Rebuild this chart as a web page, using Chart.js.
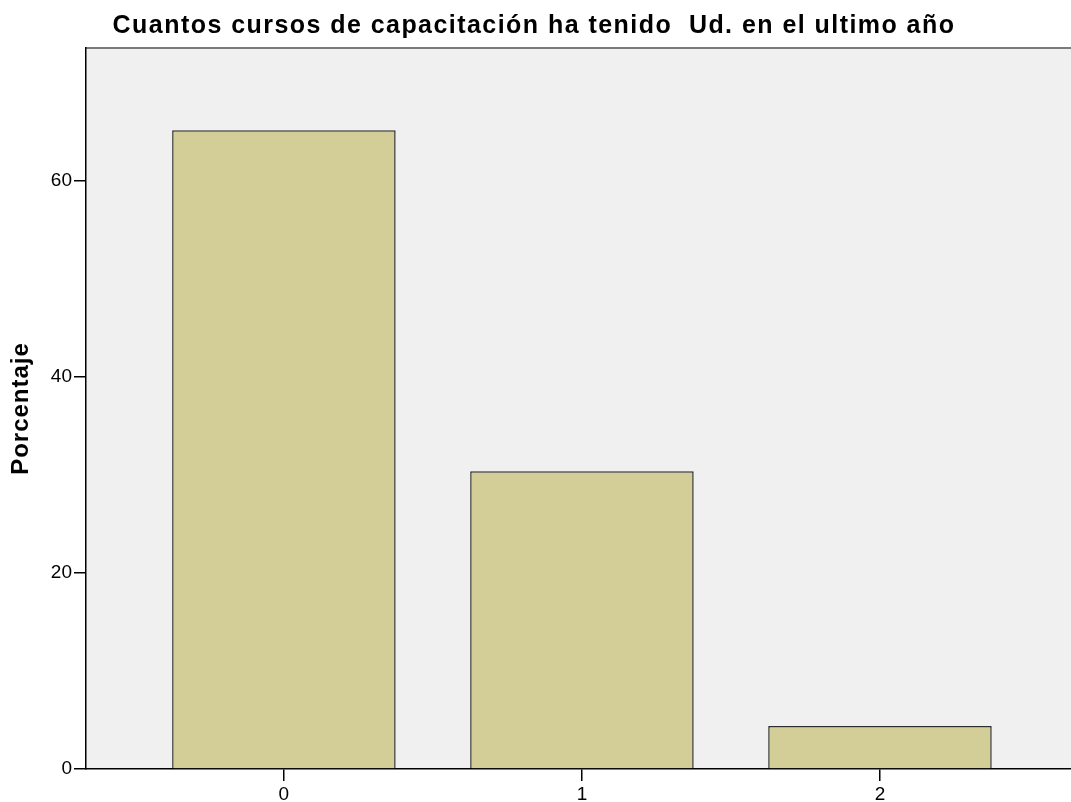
<!DOCTYPE html>
<html>
<head>
<meta charset="utf-8">
<script src="https://cdn.jsdelivr.net/npm/chart.js@4/dist/chart.umd.min.js"></script>
<style>
  html, body { margin: 0; padding: 0; background: #fff; }
  #wrap { width: 1071px; height: 802px; position: relative; }
</style>
</head>
<body>
<div id="wrap"><canvas id="chart"></canvas></div>
<script>
// values
const categories = [0, 1, 2];
const percentages = [65.2, 30.4, 4.4];
const yTicks = [0, 20, 40, 60];
const titleText = 'Cuantos cursos de capacitación ha tenido  Ud. en el ultimo año';
const yTitle = 'Porcentaje';

const FONT = '"Liberation Sans", Arial, sans-serif';

// grey plot background + top frame line
const plotBg = {
  id: 'plotBg',
  beforeDraw(chart) {
    const { ctx, chartArea: a } = chart;
    ctx.save();
    ctx.fillStyle = '#f0f0f0';
    ctx.fillRect(a.left, a.top, a.right - a.left, a.bottom - a.top);
    ctx.strokeStyle = '#7a7a7a';
    ctx.lineWidth = 2;
    ctx.beginPath();
    ctx.moveTo(a.left, a.top);
    ctx.lineTo(a.right, a.top);
    ctx.stroke();
    ctx.restore();
  }
};

// title and y-axis title drawn by hand so the spacing can match the SPSS output
const texts = {
  id: 'texts',
  afterDraw(chart) {
    const { ctx, chartArea: a } = chart;
    ctx.save();
    ctx.fillStyle = '#000';
    ctx.textAlign = 'center';
    ctx.textBaseline = 'alphabetic';
    ctx.font = 'bold 25px ' + FONT;
    ctx.letterSpacing = '1.45px';
    ctx.fillText(titleText, 534, 33);
    ctx.font = 'bold 24px ' + FONT;
    ctx.letterSpacing = '1px';
    ctx.translate(28, (a.top + a.bottom) / 2);
    ctx.rotate(-Math.PI / 2);
    ctx.fillText(yTitle, 0, 0);
    ctx.restore();
  }
};

new Chart(document.getElementById('chart'), {
  type: 'bar',
  data: {
    datasets: [{
      data: categories.map((c, i) => ({ x: c, y: percentages[i] })),
      backgroundColor: '#d3ce98',
      borderColor: '#2e2e2e',
      borderWidth: 1.5,
      categoryPercentage: 1,
      barPercentage: 0.75
    }]
  },
  options: {
    responsive: true,
    maintainAspectRatio: false,
    animation: false,
    layout: { padding: { top: 48, left: 0, right: 0, bottom: 0 } },
    plugins: {
      legend: { display: false },
      tooltip: { enabled: false },
      title: { display: false }
    },
    scales: {
      x: {
        type: 'linear',
        offset: false,
        min: -0.664,
        max: 2.641,
        afterBuildTicks: s => { s.ticks = categories.map(v => ({ value: v })); },
        afterFit: s => { s.height = 33; },
        ticks: { color: '#000', font: { family: FONT, size: 19 }, padding: 2 },
        grid: { offset: false, drawOnChartArea: false, tickLength: 12, color: '#000', lineWidth: 1.5 },
        border: { display: true, color: '#000', width: 1.5 }
      },
      y: {
        min: 0,
        max: 73.6,
        afterBuildTicks: s => { s.ticks = yTicks.map(v => ({ value: v })); },
        afterFit: s => { s.width = 86; },
        ticks: { color: '#000', font: { family: FONT, size: 19 }, padding: 2 },
        grid: { drawOnChartArea: false, tickLength: 12, color: '#000', lineWidth: 1.5 },
        border: { display: true, color: '#000', width: 1.5 }
      }
    }
  },
  plugins: [plotBg, texts]
});
</script>
</body>
</html>
